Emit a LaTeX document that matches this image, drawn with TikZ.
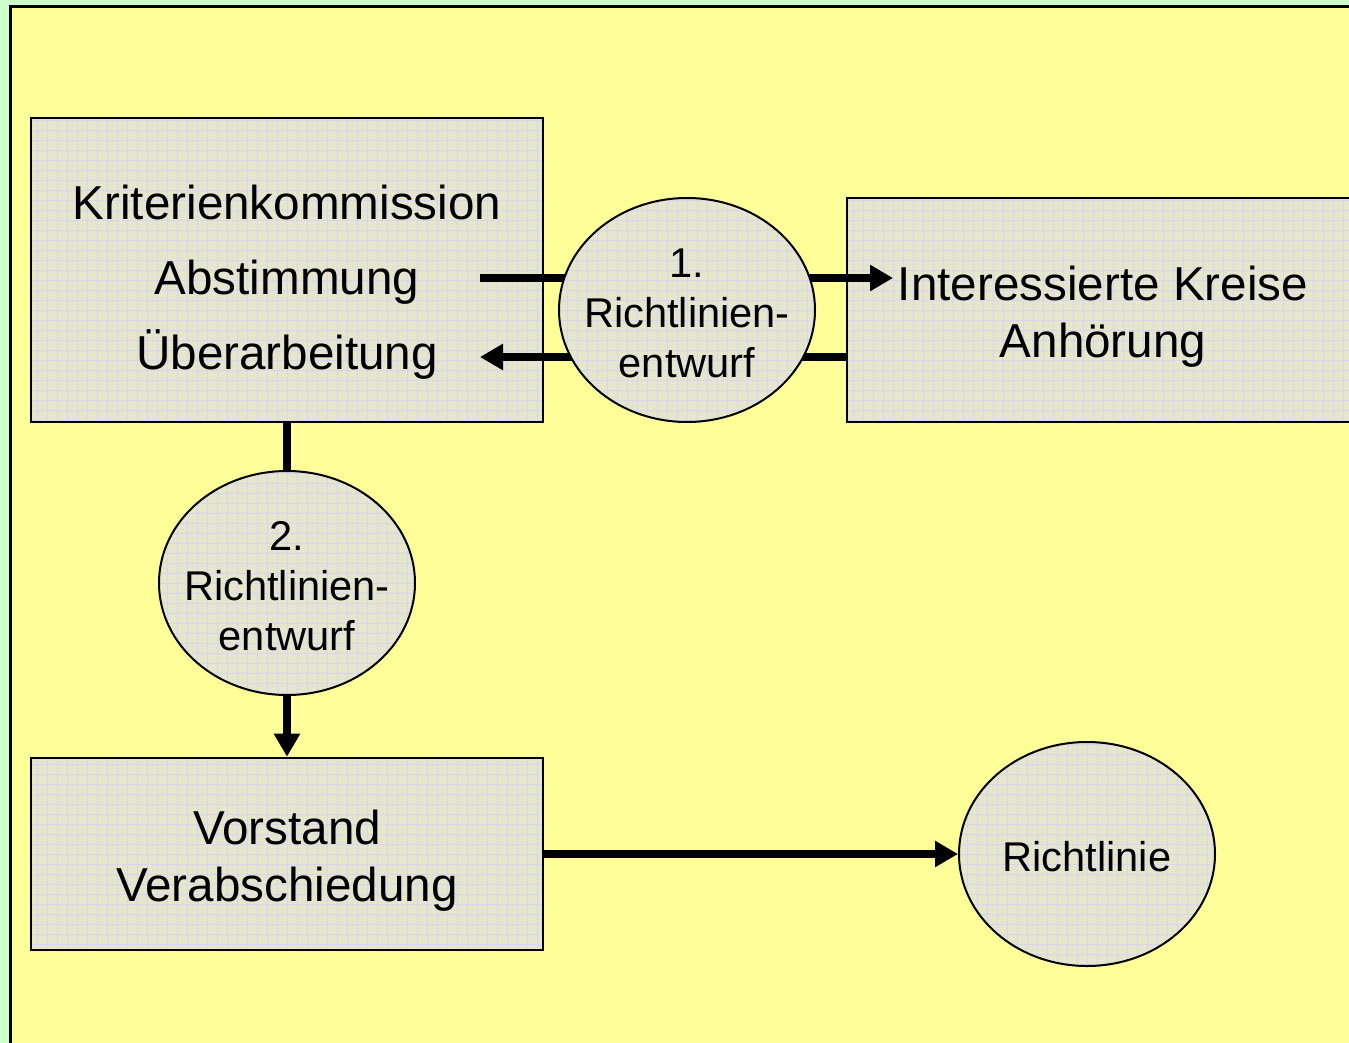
\documentclass[tikz,border=0pt]{standalone}
\usepackage{fontspec}
\setmainfont{Liberation Sans}
\usetikzlibrary{shapes.geometric, arrows.meta, positioning}
\definecolor{panelgelb}{RGB}{255,255,153}
\definecolor{randgruen}{RGB}{204,255,204}
\definecolor{kasten}{RGB}{230,230,204}
\definecolor{raster}{RGB}{214,214,240}

\begin{document}
\begin{tikzpicture}[x=0.5pt, y=-0.5pt,
  gitter/.style={path picture={\draw[raster, line width=0.4pt] (path picture bounding box.south west) grid[step=5pt] (path picture bounding box.north east);}},
  box/.style={rectangle, draw=black, line width=1.3pt, fill=kasten, gitter, minimum width=256pt},
  boxtext/.style={align=center, font=\fontsize{23.8}{28.5}\selectfont},
  bubble/.style={ellipse, draw=black, line width=1pt, fill=kasten, gitter, minimum width=128pt, minimum height=112pt, inner sep=0pt},
  bubbletext/.style={align=center, font=\fontsize{20.8}{25}\selectfont, yshift=-1.5pt},
  arrow/.style={-{Triangle[length=11.5pt, width=12.5pt]}, line width=3.6pt},
  link/.style={line width=3.6pt}
]

\useasboundingbox (0,0) rectangle (1349,1043);
\clip (0,0) rectangle (1349,1043);

% --- Hintergrund ---
\fill[randgruen] (0,0) rectangle (1349,1043);
\draw[fill=panelgelb, line width=1.5pt] (10.5,6.5) rectangle (1400,1100);

% --- Kaesten ---
\node[box, minimum height=152pt] (kommission) at (287,270) {};
\node[boxtext, font=\fontsize{23.8}{37.5}\selectfont, yshift=-6pt] (kommtext) at (kommission)
  {Kriterienkommission\\Abstimmung\\Überarbeitung};
\node[box, minimum height=112pt] (kreise) at (1103,310) {};
\node[boxtext, yshift=-3.5pt] (kreisetext) at (kreise) {Interessierte Kreise\\Anhörung};
\node[box, minimum height=96pt] (vorstand) at (287,854) {};
\node[boxtext, yshift=-3.5pt] (vorstandtext) at (vorstand) {Vorstand\\Verabschiedung};

% Endpunkte im Kasten der Kommission
\coordinate (kommaus) at (480,278);
\coordinate (kommein) at (480,357);
\coordinate (kreiseein) at (893,278);

% Verbindungen unter dem ersten Entwurf
\draw[arrow] (kommaus) -- (kreiseein);
\draw[arrow] (kreise.west |- kommein) -- (kommein);

% --- Entwuerfe ---
\node[bubble] (entwurfeins) at (687,310) {};
\node[bubbletext] (texteins) at (entwurfeins) {1.\\Richtlinien-\\entwurf};
\node[bubble] (entwurfzwei) at (287,583) {};
\node[bubbletext] (textzwei) at (entwurfzwei) {2.\\Richtlinien-\\entwurf};
\node[bubble] (richtlinie) at (1087,854) {};
\node[bubbletext] (textrl) at (richtlinie) {Richtlinie};

% Verbindungen
\draw[link] (kommission.south) -- (entwurfzwei.north);
\draw[arrow] (entwurfzwei.south) -- (vorstand.north);
\draw[arrow] (vorstand.east) -- (richtlinie.west);
\end{tikzpicture}
\end{document}
